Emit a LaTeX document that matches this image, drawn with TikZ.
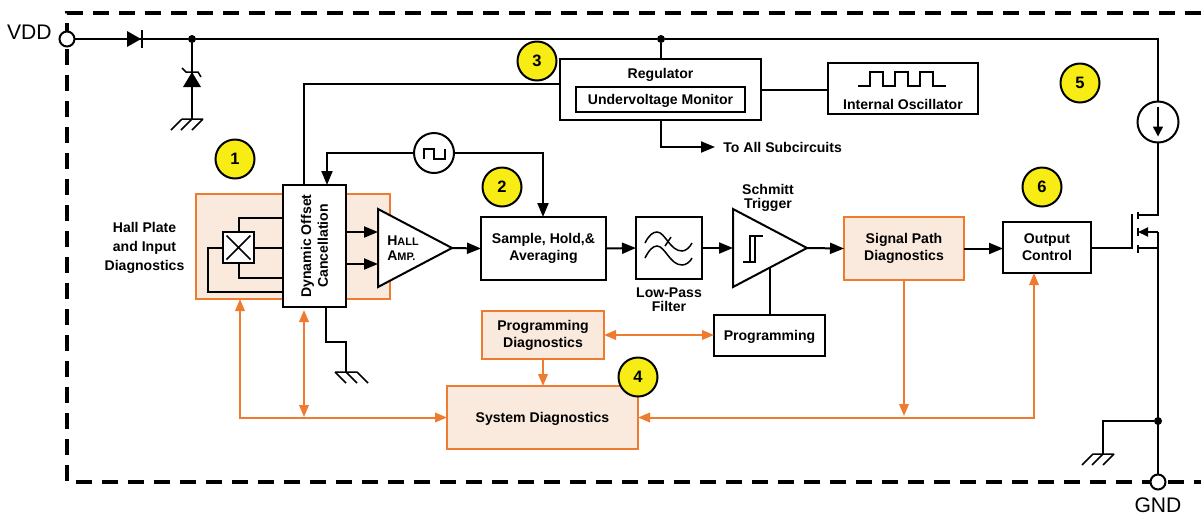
\documentclass[tikz,border=0pt]{standalone}
\usepackage{fontspec}
\setmainfont{Liberation Sans}
\usetikzlibrary{
  calc,positioning,shapes.geometric,
  arrows,arrows.meta
}
\definecolor{diagorange}{HTML}{EE7B30}
\definecolor{diagfill}{HTML}{FAEADD}
\definecolor{markyellow}{HTML}{F7EC13}
\tikzset{
  wire/.style={line width=0.4mm,black},
  thinwire/.style={line width=0.3mm,black},
  arrowwire/.style={wire,-{Triangle[length=2.8mm,width=2.2mm]}},
  diagwire/.style={line width=0.4mm,diagorange},
  diagarrow/.style={diagwire,-{Triangle[length=2.4mm,width=1.9mm]}},
  diagboth/.style={diagwire,{Triangle[length=2.4mm,width=1.9mm]}-{Triangle[length=2.4mm,width=1.9mm]}},
  blockbox/.style={draw=black,line width=0.4mm,fill=white,outer sep=0,inner sep=0,align=center,font=\fontsize{8}{9.6}\selectfont\bfseries},
  diagbox/.style={draw=diagorange,line width=0.5mm,fill=diagfill,outer sep=0,inner sep=0,align=center,font=\fontsize{8}{9.6}\selectfont\bfseries},
  amptri/.style={draw=black,line width=0.4mm,fill=white,isosceles triangle,isosceles triangle stretches,
    minimum height=14.8mm,minimum width=15.6mm,inner sep=0,outer sep=0,anchor=west},
  marker/.style={circle,draw=black,line width=0.4mm,fill=markyellow,minimum size=7.8mm,inner sep=0,font=\fontsize{9.4}{10}\selectfont\bfseries},
  pin/.style={circle,draw=black,line width=0.4mm,fill=white,minimum size=3mm,inner sep=0,outer sep=0},
  dot/.style={circle,fill=black,minimum size=1.6mm,inner sep=0,outer sep=0},
  caption/.style={align=center,inner sep=0,font=\fontsize{8}{9.6}\selectfont\bfseries},
  tightcaption/.style={align=center,inner sep=0,font=\fontsize{8}{8.2}\selectfont\bfseries},
  pinlabel/.style={inner sep=0,font=\fontsize{12}{14}\selectfont}
}
% three slanted strokes of a ground symbol
\newcommand{\gndleft}[1]{
  \draw[thinwire] ($(#1)+(-10,0)$) -- ($(#1)+(11,0)$)
    ($(#1)+(-10,0)$) -- +(-11,11) ($(#1)+(0,0)$) -- +(-11,11) ($(#1)+(11,0)$) -- +(-11,11);
}
\newcommand{\gndright}[1]{
  \draw[thinwire] ($(#1)+(-11,0)$) -- ($(#1)+(11,0)$)
    ($(#1)+(-11,0)$) -- +(11,11) ($(#1)+(0,0)$) -- +(11,11) ($(#1)+(11,0)$) -- +(11,11);
}

\begin{document}
\begin{tikzpicture}[x=0.2mm,y=-0.2mm]
\useasboundingbox (0,0) rectangle (1201,514);

% outer frame
\draw[line width=0.8mm,dash pattern=on 3.2mm off 2mm] (1201,13) -- (67,13) -- (67,482) -- (1201,482);

% blocks
\node[diagbox,minimum width=38.8mm,minimum height=21mm] (hallbox) at (293,246.5) {};
\node[blockbox,minimum width=12.6mm,minimum height=24.4mm] (offset) at (314.5,246) {};
\node[caption,rotate=90] (offsetlabel) at (offset.center) {Dynamic Offset\\Cancellation};
\node[blockbox,minimum width=6.2mm,minimum height=6.2mm] (plate) at (238.5,247.5) {};
\draw[thinwire] ($(plate.center)+(-12,-12)$) -- ($(plate.center)+(12,12)$) ($(plate.center)+(-12,12)$) -- ($(plate.center)+(12,-12)$);
\node[amptri] (amp) at (378,248) {};
\node[inner sep=0,align=left,font=\fontsize{8}{8.6}\selectfont\bfseries] (amplabel) at (403,248) {H{\fontsize{6.2}{8}\selectfont ALL}\\A{\fontsize{6.2}{8}\selectfont MP.}};
\node[blockbox,minimum width=25mm,minimum height=12.6mm] (sample) at (543.5,248.5) {Sample, Hold,\&\\Averaging};
\node[blockbox,minimum width=13.2mm,minimum height=12.4mm] (filter) at (669,248) {};
\node[amptri] (schmitt) at (733,248) {};
\node[blockbox,minimum width=22.2mm,minimum height=8.2mm,text depth=0pt] (prog) at (769.5,335.5) {Programming};
\node[diagbox,minimum width=24mm,minimum height=12.6mm] (signal) at (904,248.5) {Signal Path\\Diagnostics};
\node[blockbox,minimum width=17.6mm,minimum height=10.2mm] (output) at (1047,247.5) {Output\\Control};
\node[diagbox,minimum width=24.4mm,minimum height=9.6mm] (progdiag) at (543,335) {Programming\\Diagnostics};
\node[diagbox,minimum width=38.2mm,minimum height=12.6mm,text depth=0pt] (system) at (542.5,417.5) {System Diagnostics};
\node[blockbox,minimum width=40.2mm,minimum height=12.2mm] (regulator) at (660.5,89.5) {};
\node[caption] (reglabel) at (660.5,75) {Regulator};
\node[blockbox,minimum width=33.8mm,minimum height=5mm,text depth=0pt] (monitor) at (660.5,99.5) {Undervoltage Monitor};
\node[blockbox,minimum width=30mm,minimum height=10.2mm] (oscillator) at (903,88.5) {};
\node[caption] (osclabel) at (903,104) {Internal Oscillator};
\node[circle,draw=black,line width=0.4mm,fill=white,minimum size=8mm,inner sep=0,outer sep=0] (clock) at (434,153) {};
\node[circle,draw=black,line width=0.4mm,fill=white,minimum size=8.2mm,inner sep=0,outer sep=0] (source) at (1158,122) {};

% pins and junctions
\node[pin] (vdd) at (67,39) {};
\node[pin] (gnd) at (1158,482) {};
\node[dot] (topdot) at (192,39) {};
\node[dot] (regdot) at (661,39) {};
\node[dot] (gnddot) at (1158,421) {};

% texts
\node[pinlabel,anchor=east] (vddlabel) at (52,32) {VDD};
\node[pinlabel] (gndlabel) at (1158,505) {GND};
\node[align=center,inner sep=0,font=\fontsize{8}{11}\selectfont\bfseries] (halllabel) at (144.5,248) {Hall Plate\\and Input\\Diagnostics};
\node[tightcaption] (schmittlabel) at (768,198) {Schmitt\\Trigger};
\node[tightcaption] (filterlabel) at (669,300) {Low-Pass\\Filter};
\node[caption,anchor=west,text depth=0pt] (subcircuits) at (723,147) {To All Subcircuits};

% markers
\node[marker] (mark1) at (235,159) {1};
\node[marker] (mark2) at (502,187) {2};
\node[marker] (mark3) at (537,61) {3};
\node[marker] (mark4) at (638,377) {4};
\node[marker] (mark5) at (1080,83) {5};
\node[marker] (mark6) at (1042,187) {6};

% supply line
\coordinate (railcorner) at (1158,39);
\draw[wire] (vdd) -- (topdot) -- (regdot) -- (railcorner) -- (source);
\fill (127,31) -- (141,39) -- (127,47) -- cycle;
\draw[wire] (142,30) -- (142,48);
\coordinate (zenergnd) at (192,119);
\draw[wire] (topdot) -- (zenergnd);
\fill (183,87) -- (192,72) -- (201,87) -- cycle;
\draw[thinwire] (182,68) -- (186,72) -- (198,72) -- (201,77);
\gndleft{zenergnd}

% regulator wires
\draw[wire] (regdot) -- (regulator.north -| regdot);
\draw[wire] (regulator.east) -- (oscillator.west |- regulator.east);
\draw[arrowwire] (regulator.south) |- ($(subcircuits.west)+(-8,0)$);
\draw[wire] (regulator.west |- 0,84) -| (offset.north -| 304,0);
\draw[wire] (858,86) -- (870,86) -- (870,72) -- (883,72) -- (883,86) -- (895,86) -- (895,72) -- (908,72) -- (908,86) -- (920,86) -- (920,72) -- (933,72) -- (933,86) -- (946,86);

% clock wires
\draw[arrowwire] (clock.west) -| (offset.north -| 327,0);
\draw[arrowwire] (clock.east) -| (sample.north -| 543,0);
\draw[wire] (424,159) -- (424,149) -- (434,149) -- (434,159) -- (445,159) -- (445,149);

% hall plate wires
\draw[wire] (plate.north) |- (offset.west |- 0,218);
\draw[wire] (plate.east) -- (offset.west |- plate.east);
\draw[wire] (plate.south) |- (offset.west |- 0,278);
\coordinate (platebend) at (208,292);
\draw[wire] (plate.west) -| (platebend) -- (offset.west |- platebend);
\draw[arrowwire] (offset.east |- 0,232) -- (amp.west |- 0,232);
\draw[arrowwire] (offset.east |- 0,264) -- (amp.west |- 0,264);

% signal path
\draw[arrowwire] (amp.apex) -- (sample.west);
\draw[arrowwire] (sample.east) -- (filter.west);
\draw[arrowwire] (filter.east) -- (schmitt.west |- filter.east);
\draw[arrowwire] (schmitt.apex) -- (signal.west);
\draw[arrowwire] (signal.east) -- (output.west |- signal.east);
\draw[wire] (prog.north) -- (prog.north |- 0,267);
\draw[thinwire] (743,262) -- (755,262) -- (755,236) (750,262) -- (750,236) -- (763,236);
\draw[thinwire] (645,243) .. controls (649,235) and (653,232) .. (657,232) .. controls (665,232) and (670,251) .. (682,251) .. controls (686,251) and (690,247) .. (692,243);
\draw[thinwire] (645,258) .. controls (649,250) and (653,246) .. (657,246) .. controls (665,246) and (670,265) .. (682,265) .. controls (686,265) and (690,262) .. (692,258);
\draw[thinwire] (671,237) -- (665,246);

% ground at offset block
\coordinate (offsetgnd) at (346,372);
\coordinate (offsetbend) at (326,342);
\draw[wire] (offset.south -| offsetbend) -- (offsetbend) -| (offsetgnd);
\gndright{offsetgnd}

% output stage
\coordinate (gatetop) at (1132,214);
\coordinate (gatemid) at (1132,248);
\coordinate (drain) at (1158,215);
\coordinate (body) at (1158,232);
\coordinate (sourcept) at (1158,248);
\draw[wire] (output.east |- gatemid) -- (gatemid) -- (gatetop);
\draw[wire] (source) -- (drain) -- (1138,215);
\draw[wire] (gnd) -- (body);
\draw[wire] (sourcept) -- (1138,248);
\draw[wire,-{Triangle[length=2mm,width=1.8mm]}] (body) -- (1138,232);
\draw[wire] (1138,212) -- (1138,219) (1138,228) -- (1138,236) (1138,245) -- (1138,253);
\draw[thinwire,-{Triangle[length=2mm,width=2mm]}] (source.north) ++(0,5) -- ++(0,30);
\coordinate (groundbend) at (1103,421);
\coordinate (outgnd) at (1103,454);
\draw[wire] (gnddot) -- (groundbend) -- (outgnd);
\gndleft{outgnd}

% diagnostics wires
\draw[diagboth] (progdiag.east) -- (prog.west |- progdiag.east);
\draw[diagarrow] (progdiag.south) -- (system.north -| progdiag.south);
\coordinate (signalbend) at (904,416);
\draw[diagarrow] (signal.south -| signalbend) -- (signalbend);
\draw[diagboth] (system.east) -| (output.south -| 1034,0);
\draw[diagboth] (hallbox.south -| 240,0) |- (system.west);
\coordinate (offsetarrow) at (304,417);
\draw[diagboth] (offset.south -| offsetarrow) ++(0,3) -- (offsetarrow);
\end{tikzpicture}
\end{document}
